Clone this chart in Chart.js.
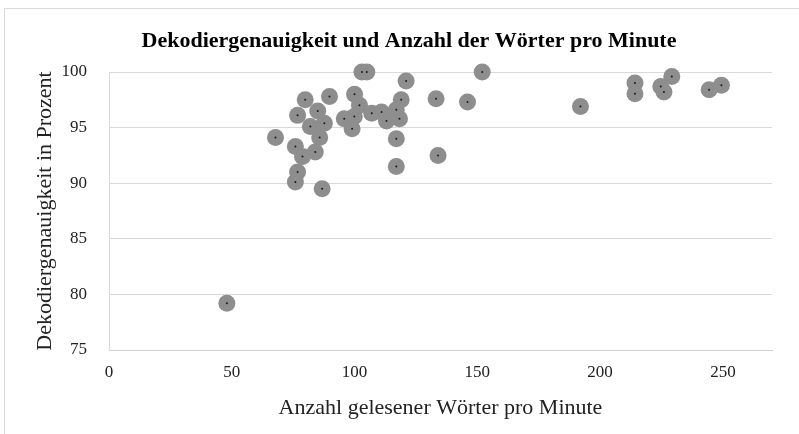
<!DOCTYPE html>
<html>
<head>
<meta charset="utf-8">
<script src="https://cdn.jsdelivr.net/npm/chart.js@4"></script>
<style>
  html, body { margin: 0; padding: 0; background: #fff; }
  #wrap { position: relative; width: 799px; height: 434px; overflow: hidden; }
  #frame { position: absolute; left: 4px; top: 8px; width: 820px; height: 460px; border: 1px solid #d9d9d9; }
  canvas { position: absolute; left: 0; top: 0; }
</style>
</head>
<body>
<div id="wrap">
  <div id="frame"></div>
  <canvas id="grafico" width="799" height="434"></canvas>
</div>
<script>
// Wörter pro Minute (x) und Dekodiergenauigkeit in % (y)
const woerter = [48, 67.8, 75.9, 76.8, 75.9, 78.8, 76.8, 79.9, 82, 84, 85.8, 85, 87.7, 86.8, 89.8,
  95.8, 99.9, 99, 100, 102, 103, 105, 107, 111, 113, 117, 118.3, 119, 117, 117, 121,
  133.2, 134, 146, 152, 192, 214.2, 214.2, 224.7, 226, 229.2, 244.4, 249.4];
const genauigkeit = [79.2, 94.1, 90.1, 91.0, 93.3, 92.4, 96.1, 97.5, 95.1, 92.8, 94.1, 96.5, 95.4, 89.5, 97.8,
  95.8, 96.0, 94.9, 98.0, 97.0, 100, 100, 96.3, 96.4, 95.6, 96.6, 95.8, 97.5, 94.0, 91.5, 99.2,
  97.6, 92.5, 97.3, 100, 96.9, 99.0, 98.05, 98.7, 98.2, 99.6, 98.4, 98.8];
const xTicks = [0, 50, 100, 150, 200, 250];
const yTicks = [75, 80, 85, 90, 95, 100];

const punkte = woerter.map((x, i) => ({ x: x, y: genauigkeit[i] }));
const schrift = "'Liberation Serif', 'Times New Roman', serif";

new Chart(document.getElementById('grafico'), {
  type: 'scatter',
  data: {
    datasets: [
      { data: punkte, pointRadius: 1, pointBackgroundColor: '#1a1a1a', pointBorderWidth: 0, clip: false },
      { data: punkte, pointRadius: 8.5, pointBackgroundColor: '#8e8e8e', pointBorderColor: '#8e8e8e', pointBorderWidth: 0, clip: false }
    ]
  },
  options: {
    responsive: false,
    animation: false,
    // links 46 px Rand, damit der Titel wie im Original etwas nach rechts rückt
    layout: { padding: { left: 46, right: 27, top: 0, bottom: 0 } },
    plugins: {
      legend: { display: false },
      tooltip: { enabled: false },
      title: {
        display: true,
        text: 'Dekodiergenauigkeit und Anzahl der Wörter pro Minute',
        color: '#000',
        font: { family: schrift, size: 22, weight: 'bold' },
        padding: { top: 28, bottom: 17.6 }
      }
    },
    scales: {
      x: {
        min: 0, max: 270,
        afterBuildTicks: s => { s.ticks = xTicks.map(v => ({ value: v })); },
        afterFit: s => { s.height = 84; },
        grid: { display: false, drawTicks: false },
        border: { display: true, color: '#d0d0d0' },
        ticks: { color: '#222', font: { family: schrift, size: 17 }, padding: 12 },
        title: { display: true, text: 'Anzahl gelesener Wörter pro Minute', color: '#222',
                 font: { family: schrift, size: 22 }, padding: { top: 0, bottom: 13 } }
      },
      y: {
        min: 75, max: 100,
        afterBuildTicks: s => { s.ticks = yTicks.map(v => ({ value: v })); },
        afterFit: s => { s.width = 63; },
        grid: { color: '#d9d9d9', drawTicks: false },
        border: { display: true, color: '#d9d9d9' },
        ticks: { color: '#222', font: { family: schrift, size: 17 }, padding: 22 },
        title: { display: true, text: 'Dekodiergenauigkeit in Prozent', color: '#222',
                 font: { family: schrift, size: 22 }, padding: { top: -14, bottom: 0 } }
      }
    }
  }
});
</script>
</body>
</html>
